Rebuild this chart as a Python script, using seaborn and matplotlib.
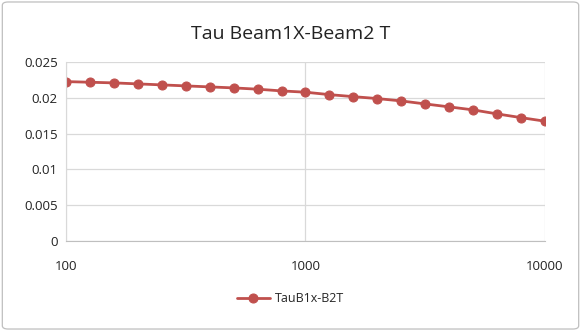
import matplotlib
matplotlib.use("Agg")
import matplotlib.pyplot as plt
from matplotlib.patches import FancyBboxPatch
from matplotlib.ticker import FixedLocator, FixedFormatter, NullLocator
import pandas as pd
import seaborn as sns

# data
freq = [100, 125.9, 158.5, 199.5, 251.2, 316.2, 398.1, 501.2, 631.0, 794.3,
        1000, 1258.9, 1584.9, 1995.3, 2511.9, 3162.3, 3981.1, 5011.9, 6309.6, 7943.3, 10000]
tau = [0.02225, 0.02216, 0.02207, 0.02193, 0.02179, 0.02165, 0.02151, 0.02137, 0.02119, 0.02095,
       0.02077, 0.02043, 0.02015, 0.01988, 0.01955, 0.01913, 0.01872, 0.01830, 0.01774, 0.01722, 0.01672]
series_name = "TauB1x-B2T"

df = pd.DataFrame({"freq": freq, "tau": tau, "series": series_name})

sns.set_style("white")
plt.rcParams["font.family"] = ["Open Sans", "DejaVu Sans"]

fig = plt.figure(figsize=(5.81, 3.31), dpi=100)
ax = fig.add_axes([0.1136, 0.272, 0.8244, 0.541])

red = "#C0504D"
sns.lineplot(data=df, x="freq", y="tau", hue="series", palette=[red], marker="o",
             markersize=6.5, markeredgecolor=red, linewidth=2.0, ax=ax)

ax.set_xscale("log")
ax.set_xlim(100, 10000)
ax.set_ylim(0, 0.025)
ax.xaxis.set_major_locator(FixedLocator([100, 1000, 10000]))
ax.xaxis.set_major_formatter(FixedFormatter(["100", "1000", "10000"]))
ax.xaxis.set_minor_locator(NullLocator())
ax.set_yticks([0, 0.005, 0.01, 0.015, 0.02, 0.025])
ax.set_yticklabels(["0", "0.005", "0.01", "0.015", "0.02", "0.025"])
ax.grid(True, color="#D9D9D9", linewidth=0.9)
ax.set_axisbelow(True)
ax.tick_params(axis="both", length=0, labelsize=9.5, colors="#222222")
ax.tick_params(axis="x", pad=14)
ax.tick_params(axis="y", pad=6)
ax.set_xlabel("")
ax.set_ylabel("")
for s in ["top", "right"]:
    ax.spines[s].set_visible(False)
ax.spines["left"].set_color("#D9D9D9")
ax.spines["bottom"].set_color("#BFBFBF")

fig.text(0.5, 0.897, "Tau Beam1X-Beam2 T", ha="center", va="center", fontsize=14, color="#222222")

handles, labels = ax.get_legend_handles_labels()
ax.legend(handles, labels, loc="center", bbox_to_anchor=(0.5, 0.097), bbox_transform=fig.transFigure,
          frameon=False, fontsize=9, handlelength=2.6, handletextpad=0.4)

fig.patches.append(FancyBboxPatch((0.004, 0.006), 0.992, 0.988, boxstyle="round,pad=0,rounding_size=0.01",
                                  transform=fig.transFigure, fill=False, edgecolor="#BFBFBF", linewidth=0.9))

fig.savefig("out.png", dpi=100)
